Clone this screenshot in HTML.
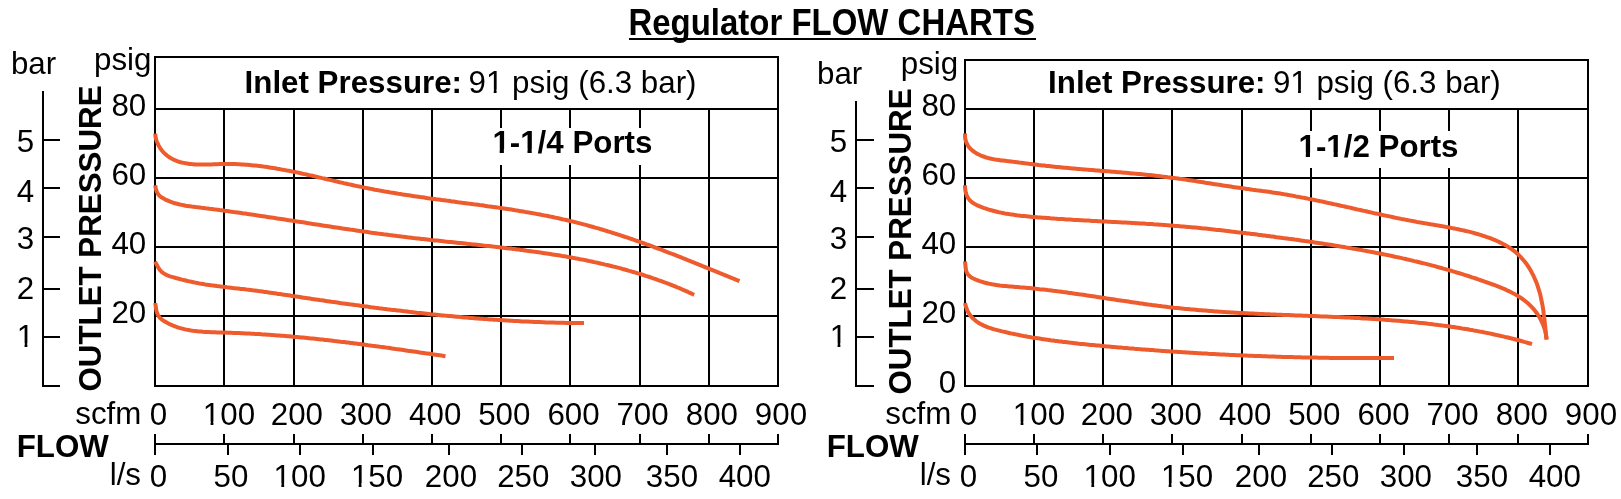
<!DOCTYPE html>
<html><head><meta charset="utf-8"><style>
html,body{margin:0;padding:0;background:#fff;}
body{width:1621px;height:499px;overflow:hidden;position:relative;}
svg{position:absolute;left:0;top:0;will-change:transform;}
text{font-family:"Liberation Sans", sans-serif;fill:#000;}
</style></head><body>
<svg width="1621" height="499" viewBox="0 0 1621 499">
<g>
<rect x="154" y="56" width="625" height="2" fill="#000"/>
<rect x="154" y="108" width="625" height="2" fill="#000"/>
<rect x="154" y="177" width="625" height="2" fill="#000"/>
<rect x="154" y="246" width="625" height="2" fill="#000"/>
<rect x="154" y="315" width="625" height="2" fill="#000"/>
<rect x="154" y="385" width="625" height="2" fill="#000"/>
<rect x="154" y="56" width="2" height="331" fill="#000"/>
<rect x="777" y="56" width="2" height="331" fill="#000"/>
<rect x="223" y="108" width="2" height="279" fill="#000"/>
<rect x="293" y="108" width="2" height="279" fill="#000"/>
<rect x="362" y="108" width="2" height="279" fill="#000"/>
<rect x="431" y="108" width="2" height="279" fill="#000"/>
<rect x="500" y="108" width="2" height="279" fill="#000"/>
<rect x="569" y="108" width="2" height="279" fill="#000"/>
<rect x="639" y="108" width="2" height="279" fill="#000"/>
<rect x="708" y="108" width="2" height="279" fill="#000"/>
<rect x="478" y="128" width="184" height="37" fill="#fff"/>
<path d="M155.2,133.6 L155.4,135.6 L155.7,137.7 L156.2,139.6 L156.9,141.6 L157.6,143.4 L158.5,145.2 L159.5,147.0 L160.5,148.6 L161.7,150.2 L163.0,151.8 L164.4,153.2 L165.9,154.6 L167.4,155.8 L169.0,157.0 L170.7,158.1 L172.4,159.0 L174.2,159.9 L176.0,160.7 L177.8,161.4 L179.7,162.0 L181.7,162.5 L183.6,162.9 L185.6,163.3 L187.5,163.6 L189.5,163.9 L191.5,164.1 L193.5,164.2 L195.5,164.4 L197.5,164.4 L199.5,164.5 L201.5,164.5 L203.5,164.5 L205.5,164.5 L207.5,164.5 L209.5,164.4 L211.5,164.4 L213.6,164.3 L215.6,164.2 L217.6,164.2 L219.6,164.1 L221.6,164.0 L223.6,164.0 L225.7,164.0 L227.7,164.0 L229.7,164.0 L231.7,164.0 L233.7,164.1 L235.7,164.1 L237.7,164.2 L239.7,164.3 L241.6,164.4 L243.6,164.5 L245.6,164.7 L247.6,164.8 L249.6,165.0 L251.6,165.2 L253.6,165.4 L255.5,165.6 L257.5,165.8 L259.5,166.0 L261.5,166.3 L263.4,166.6 L265.4,166.8 L267.4,167.1 L269.3,167.4 L271.3,167.7 L273.3,168.0 L275.2,168.3 L277.2,168.7 L279.2,169.0 L281.1,169.4 L283.1,169.7 L285.0,170.1 L287.0,170.5 L289.0,170.8 L290.9,171.2 L292.9,171.6 L294.8,172.0 L296.8,172.4 L298.7,172.8 L300.7,173.3 L302.6,173.7 L304.6,174.1 L306.5,174.5 L308.5,175.0 L310.4,175.4 L312.4,175.8 L314.3,176.3 L316.3,176.7 L318.2,177.2 L320.2,177.6 L322.1,178.1 L324.1,178.5 L326.0,179.0 L328.0,179.5 L329.9,179.9 L331.9,180.4 L333.8,180.8 L335.8,181.3 L337.7,181.7 L339.7,182.2 L341.6,182.6 L343.6,183.1 L345.5,183.5 L347.5,184.0 L349.4,184.4 L351.4,184.8 L353.3,185.3 L355.3,185.7 L357.2,186.1 L359.2,186.5 L361.2,186.9 L363.1,187.4 L365.1,187.8 L367.0,188.1 L369.0,188.5 L371.0,188.9 L372.9,189.3 L374.9,189.7 L376.9,190.0 L378.8,190.4 L380.8,190.8 L382.8,191.1 L384.7,191.5 L386.7,191.8 L388.7,192.1 L390.7,192.5 L392.6,192.8 L394.6,193.1 L396.6,193.4 L398.5,193.8 L400.5,194.1 L402.5,194.4 L404.5,194.7 L406.5,195.0 L408.4,195.3 L410.4,195.6 L412.4,195.9 L414.4,196.2 L416.3,196.5 L418.3,196.8 L420.3,197.1 L422.3,197.3 L424.3,197.6 L426.2,197.9 L428.2,198.2 L430.2,198.4 L432.2,198.7 L434.2,199.0 L436.2,199.3 L438.1,199.5 L440.1,199.8 L442.1,200.1 L444.1,200.3 L446.1,200.6 L448.1,200.8 L450.0,201.1 L452.0,201.4 L454.0,201.6 L456.0,201.9 L458.0,202.2 L460.0,202.4 L461.9,202.7 L463.9,202.9 L465.9,203.2 L467.9,203.5 L469.9,203.7 L471.8,204.0 L473.8,204.3 L475.8,204.5 L477.8,204.8 L479.8,205.1 L481.8,205.3 L483.7,205.6 L485.7,205.9 L487.7,206.2 L489.7,206.4 L491.6,206.7 L493.6,207.0 L495.6,207.3 L497.6,207.6 L499.6,207.8 L501.5,208.1 L503.5,208.4 L505.5,208.7 L507.5,209.0 L509.4,209.3 L511.4,209.6 L513.4,209.9 L515.3,210.3 L517.3,210.6 L519.3,210.9 L521.3,211.2 L523.2,211.5 L525.2,211.9 L527.2,212.2 L529.1,212.6 L531.1,212.9 L533.0,213.3 L535.0,213.6 L537.0,214.0 L538.9,214.3 L540.9,214.7 L542.8,215.1 L544.8,215.5 L546.8,215.8 L548.7,216.2 L550.7,216.6 L552.6,217.0 L554.6,217.5 L556.5,217.9 L558.5,218.3 L560.4,218.7 L562.4,219.2 L564.3,219.6 L566.2,220.0 L568.2,220.5 L570.1,221.0 L572.1,221.4 L574.0,221.9 L575.9,222.4 L577.9,222.9 L579.8,223.4 L581.7,223.9 L583.7,224.4 L585.6,224.9 L587.5,225.4 L589.5,226.0 L591.4,226.5 L593.3,227.0 L595.2,227.6 L597.2,228.1 L599.1,228.7 L601.0,229.3 L602.9,229.8 L604.8,230.4 L606.7,231.0 L608.6,231.6 L610.6,232.2 L612.5,232.8 L614.4,233.4 L616.3,234.0 L618.2,234.6 L620.1,235.2 L622.0,235.8 L623.9,236.5 L625.8,237.1 L627.7,237.7 L629.6,238.4 L631.5,239.0 L633.4,239.7 L635.3,240.3 L637.2,241.0 L639.1,241.7 L641.0,242.3 L642.9,243.0 L644.7,243.7 L646.6,244.4 L648.5,245.0 L650.4,245.7 L652.3,246.4 L654.2,247.1 L656.0,247.8 L657.9,248.5 L659.8,249.2 L661.7,249.9 L663.6,250.6 L665.4,251.3 L667.3,252.1 L669.2,252.8 L671.0,253.5 L672.9,254.2 L674.8,254.9 L676.7,255.7 L678.5,256.4 L680.4,257.1 L682.3,257.9 L684.1,258.6 L686.0,259.3 L687.8,260.1 L689.7,260.8 L691.6,261.6 L693.4,262.3 L695.3,263.1 L697.1,263.8 L699.0,264.6 L700.8,265.3 L702.7,266.1 L704.5,266.8 L706.4,267.6 L708.2,268.3 L710.1,269.1 L711.9,269.8 L713.8,270.6 L715.6,271.3 L717.5,272.1 L719.3,272.9 L721.1,273.6 L723.0,274.4 L724.8,275.1 L726.7,275.9 L728.5,276.7 L730.3,277.4 L732.2,278.2 L734.0,278.9 L735.8,279.7 L737.7,280.4 L739.5,281.2" fill="none" stroke="#EE5B2D" stroke-width="4" stroke-linecap="butt" stroke-linejoin="round"/>
<path d="M155.2,185.2 L155.5,187.2 L156.0,189.2 L156.6,191.2 L157.4,193.0 L158.5,194.7 L159.8,196.1 L161.5,197.3 L163.2,198.3 L164.9,199.3 L166.7,200.1 L168.5,200.9 L170.3,201.7 L172.2,202.4 L174.1,203.0 L176.0,203.5 L177.9,204.0 L179.8,204.5 L181.7,204.9 L183.7,205.3 L185.6,205.7 L187.6,206.0 L189.6,206.3 L191.6,206.6 L193.6,206.8 L195.6,207.1 L197.6,207.3 L199.6,207.5 L201.6,207.8 L203.6,208.0 L205.6,208.3 L207.6,208.5 L209.6,208.8 L211.6,209.0 L213.6,209.3 L215.6,209.5 L217.6,209.8 L219.6,210.1 L221.5,210.3 L223.5,210.6 L225.5,210.9 L227.5,211.1 L229.5,211.4 L231.5,211.7 L233.5,212.0 L235.5,212.2 L237.5,212.5 L239.4,212.8 L241.4,213.1 L243.4,213.4 L245.4,213.6 L247.4,213.9 L249.4,214.2 L251.3,214.5 L253.3,214.8 L255.3,215.1 L257.3,215.4 L259.2,215.7 L261.2,216.0 L263.2,216.3 L265.2,216.6 L267.2,216.9 L269.1,217.2 L271.1,217.5 L273.1,217.8 L275.1,218.1 L277.0,218.4 L279.0,218.7 L281.0,219.0 L283.0,219.3 L284.9,219.6 L286.9,219.9 L288.9,220.2 L290.8,220.5 L292.8,220.8 L294.8,221.1 L296.8,221.4 L298.7,221.7 L300.7,222.0 L302.7,222.3 L304.6,222.6 L306.6,222.9 L308.6,223.2 L310.6,223.6 L312.5,223.9 L314.5,224.2 L316.5,224.5 L318.4,224.8 L320.4,225.1 L322.4,225.4 L324.3,225.7 L326.3,226.0 L328.3,226.3 L330.3,226.6 L332.2,226.9 L334.2,227.2 L336.2,227.5 L338.1,227.8 L340.1,228.1 L342.1,228.4 L344.0,228.7 L346.0,229.0 L348.0,229.3 L350.0,229.6 L351.9,229.8 L353.9,230.1 L355.9,230.4 L357.9,230.7 L359.8,231.0 L361.8,231.3 L363.8,231.6 L365.7,231.8 L367.7,232.1 L369.7,232.4 L371.7,232.7 L373.6,232.9 L375.6,233.2 L377.6,233.5 L379.6,233.7 L381.6,234.0 L383.5,234.3 L385.5,234.5 L387.5,234.8 L389.5,235.1 L391.5,235.3 L393.4,235.6 L395.4,235.8 L397.4,236.1 L399.4,236.3 L401.4,236.6 L403.3,236.8 L405.3,237.0 L407.3,237.3 L409.3,237.5 L411.3,237.7 L413.3,238.0 L415.3,238.2 L417.3,238.4 L419.2,238.6 L421.2,238.9 L423.2,239.1 L425.2,239.3 L427.2,239.5 L429.2,239.7 L431.2,240.0 L433.2,240.2 L435.2,240.4 L437.2,240.6 L439.2,240.8 L441.2,241.0 L443.1,241.2 L445.1,241.5 L447.1,241.7 L449.1,241.9 L451.1,242.1 L453.1,242.3 L455.1,242.5 L457.1,242.7 L459.1,242.9 L461.1,243.1 L463.1,243.3 L465.1,243.5 L467.1,243.8 L469.1,244.0 L471.1,244.2 L473.1,244.4 L475.1,244.6 L477.0,244.8 L479.0,245.0 L481.0,245.2 L483.0,245.5 L485.0,245.7 L487.0,245.9 L489.0,246.1 L491.0,246.3 L493.0,246.6 L495.0,246.8 L497.0,247.0 L499.0,247.2 L501.0,247.5 L502.9,247.7 L504.9,247.9 L506.9,248.2 L508.9,248.4 L510.9,248.6 L512.9,248.9 L514.9,249.1 L516.9,249.4 L518.8,249.6 L520.8,249.9 L522.8,250.1 L524.8,250.4 L526.8,250.7 L528.8,250.9 L530.7,251.2 L532.7,251.5 L534.7,251.7 L536.7,252.0 L538.7,252.3 L540.6,252.6 L542.6,252.9 L544.6,253.2 L546.6,253.5 L548.5,253.8 L550.5,254.1 L552.5,254.4 L554.5,254.7 L556.4,255.0 L558.4,255.3 L560.4,255.6 L562.3,256.0 L564.3,256.3 L566.3,256.6 L568.2,257.0 L570.2,257.3 L572.2,257.7 L574.1,258.1 L576.1,258.4 L578.0,258.8 L580.0,259.2 L581.9,259.5 L583.9,259.9 L585.9,260.3 L587.8,260.7 L589.8,261.1 L591.7,261.5 L593.6,262.0 L595.6,262.4 L597.5,262.8 L599.5,263.2 L601.4,263.7 L603.4,264.1 L605.3,264.6 L607.2,265.0 L609.2,265.5 L611.1,266.0 L613.0,266.5 L615.0,266.9 L616.9,267.4 L618.8,267.9 L620.7,268.4 L622.7,269.0 L624.6,269.5 L626.5,270.0 L628.4,270.6 L630.3,271.1 L632.2,271.7 L634.2,272.2 L636.1,272.8 L638.0,273.4 L639.9,273.9 L641.8,274.5 L643.7,275.1 L645.6,275.8 L647.5,276.4 L649.4,277.0 L651.3,277.6 L653.2,278.3 L655.1,278.9 L656.9,279.6 L658.8,280.3 L660.7,280.9 L662.6,281.6 L664.5,282.3 L666.3,283.0 L668.2,283.7 L670.1,284.5 L672.0,285.2 L673.8,286.0 L675.7,286.7 L677.6,287.5 L679.4,288.2 L681.3,289.0 L683.1,289.8 L685.0,290.6 L686.8,291.4 L688.7,292.3 L690.5,293.1 L692.4,294.0 L694.2,294.8" fill="none" stroke="#EE5B2D" stroke-width="4" stroke-linecap="butt" stroke-linejoin="round"/>
<path d="M155.1,261.6 L156.0,263.4 L157.0,265.2 L158.0,267.0 L159.0,268.7 L160.2,270.2 L161.5,271.7 L163.0,272.9 L164.6,273.9 L166.3,274.8 L168.1,275.6 L170.0,276.3 L171.9,276.9 L173.9,277.4 L175.8,278.0 L177.8,278.5 L179.7,279.0 L181.7,279.6 L183.6,280.0 L185.6,280.5 L187.5,281.0 L189.5,281.4 L191.4,281.8 L193.4,282.2 L195.3,282.6 L197.3,283.0 L199.2,283.4 L201.2,283.7 L203.2,284.0 L205.1,284.4 L207.1,284.7 L209.1,285.0 L211.0,285.3 L213.0,285.5 L215.0,285.8 L217.0,286.1 L218.9,286.3 L220.9,286.6 L222.9,286.8 L224.9,287.0 L226.8,287.3 L228.8,287.5 L230.8,287.7 L232.8,288.0 L234.8,288.2 L236.7,288.4 L238.7,288.6 L240.7,288.9 L242.7,289.1 L244.7,289.3 L246.6,289.6 L248.6,289.8 L250.6,290.0 L252.6,290.3 L254.6,290.5 L256.5,290.8 L258.5,291.1 L260.5,291.3 L262.5,291.6 L264.4,291.9 L266.4,292.1 L268.4,292.4 L270.4,292.7 L272.4,293.0 L274.3,293.3 L276.3,293.6 L278.3,293.9 L280.3,294.1 L282.2,294.4 L284.2,294.7 L286.2,295.0 L288.2,295.3 L290.1,295.6 L292.1,295.9 L294.1,296.2 L296.1,296.5 L298.0,296.8 L300.0,297.1 L302.0,297.4 L304.0,297.7 L305.9,298.0 L307.9,298.3 L309.9,298.6 L311.9,298.9 L313.8,299.2 L315.8,299.5 L317.8,299.8 L319.8,300.1 L321.8,300.3 L323.7,300.6 L325.7,300.9 L327.7,301.2 L329.7,301.5 L331.6,301.8 L333.6,302.0 L335.6,302.3 L337.6,302.6 L339.6,302.9 L341.5,303.2 L343.5,303.4 L345.5,303.7 L347.5,304.0 L349.4,304.3 L351.4,304.5 L353.4,304.8 L355.4,305.1 L357.4,305.3 L359.3,305.6 L361.3,305.9 L363.3,306.1 L365.3,306.4 L367.2,306.6 L369.2,306.9 L371.2,307.2 L373.2,307.4 L375.2,307.7 L377.1,307.9 L379.1,308.2 L381.1,308.4 L383.1,308.7 L385.1,308.9 L387.0,309.2 L389.0,309.4 L391.0,309.7 L393.0,309.9 L395.0,310.1 L397.0,310.4 L398.9,310.6 L400.9,310.8 L402.9,311.1 L404.9,311.3 L406.9,311.5 L408.8,311.8 L410.8,312.0 L412.8,312.2 L414.8,312.4 L416.8,312.7 L418.8,312.9 L420.7,313.1 L422.7,313.3 L424.7,313.5 L426.7,313.7 L428.7,313.9 L430.7,314.2 L432.6,314.4 L434.6,314.6 L436.6,314.8 L438.6,315.0 L440.6,315.2 L442.6,315.4 L444.5,315.6 L446.5,315.7 L448.5,315.9 L450.5,316.1 L452.5,316.3 L454.5,316.5 L456.5,316.7 L458.4,316.8 L460.4,317.0 L462.4,317.2 L464.4,317.4 L466.4,317.5 L468.4,317.7 L470.4,317.9 L472.4,318.0 L474.3,318.2 L476.3,318.4 L478.3,318.5 L480.3,318.7 L482.3,318.8 L484.3,319.0 L486.3,319.1 L488.3,319.3 L490.3,319.4 L492.2,319.5 L494.2,319.7 L496.2,319.8 L498.2,320.0 L500.2,320.1 L502.2,320.2 L504.2,320.3 L506.2,320.5 L508.2,320.6 L510.2,320.7 L512.1,320.8 L514.1,320.9 L516.1,321.0 L518.1,321.1 L520.1,321.2 L522.1,321.4 L524.1,321.4 L526.1,321.5 L528.1,321.6 L530.1,321.7 L532.1,321.8 L534.1,321.9 L536.1,322.0 L538.1,322.1 L540.1,322.1 L542.0,322.2 L544.0,322.3 L546.0,322.4 L548.0,322.4 L550.0,322.5 L552.0,322.5 L554.0,322.6 L556.0,322.7 L558.0,322.7 L560.0,322.8 L562.0,322.8 L564.0,322.8 L566.0,322.9 L568.0,322.9 L570.0,323.0 L572.0,323.0 L574.0,323.0 L576.0,323.0 L578.0,323.1 L580.0,323.1 L582.0,323.1 L584.0,323.1" fill="none" stroke="#EE5B2D" stroke-width="4" stroke-linecap="butt" stroke-linejoin="round"/>
<path d="M155.2,303.0 L155.5,304.9 L155.8,306.9 L156.1,309.0 L156.5,311.0 L157.1,313.0 L157.8,314.8 L158.9,316.5 L160.1,318.0 L161.6,319.3 L163.2,320.5 L164.9,321.6 L166.7,322.6 L168.4,323.5 L170.2,324.4 L172.1,325.2 L173.9,326.0 L175.8,326.7 L177.6,327.3 L179.5,327.9 L181.4,328.4 L183.3,328.9 L185.2,329.4 L187.2,329.8 L189.1,330.1 L191.1,330.5 L193.0,330.8 L195.0,331.0 L197.0,331.2 L199.0,331.4 L201.0,331.6 L203.0,331.8 L205.0,331.9 L207.0,332.0 L209.0,332.1 L211.0,332.2 L213.0,332.3 L215.1,332.3 L217.1,332.4 L219.1,332.4 L221.2,332.5 L223.2,332.6 L225.2,332.6 L227.2,332.7 L229.3,332.7 L231.3,332.8 L233.3,332.9 L235.3,332.9 L237.3,333.0 L239.3,333.1 L241.3,333.2 L243.4,333.3 L245.4,333.4 L247.4,333.5 L249.4,333.6 L251.4,333.7 L253.4,333.8 L255.4,333.9 L257.4,334.0 L259.4,334.1 L261.4,334.3 L263.4,334.4 L265.4,334.5 L267.4,334.7 L269.4,334.8 L271.4,334.9 L273.3,335.1 L275.3,335.2 L277.3,335.4 L279.3,335.5 L281.3,335.7 L283.3,335.8 L285.3,336.0 L287.3,336.2 L289.2,336.3 L291.2,336.5 L293.2,336.7 L295.2,336.9 L297.2,337.0 L299.1,337.2 L301.1,337.4 L303.1,337.6 L305.1,337.8 L307.1,338.0 L309.0,338.2 L311.0,338.4 L313.0,338.6 L315.0,338.8 L316.9,339.0 L318.9,339.2 L320.9,339.4 L322.8,339.6 L324.8,339.9 L326.8,340.1 L328.8,340.3 L330.7,340.5 L332.7,340.7 L334.7,341.0 L336.6,341.2 L338.6,341.4 L340.6,341.7 L342.6,341.9 L344.5,342.1 L346.5,342.4 L348.5,342.6 L350.4,342.9 L352.4,343.1 L354.4,343.4 L356.3,343.6 L358.3,343.9 L360.3,344.1 L362.3,344.4 L364.2,344.6 L366.2,344.9 L368.2,345.2 L370.1,345.4 L372.1,345.7 L374.1,345.9 L376.0,346.2 L378.0,346.5 L380.0,346.8 L382.0,347.0 L383.9,347.3 L385.9,347.6 L387.9,347.8 L389.9,348.1 L391.8,348.4 L393.8,348.7 L395.8,349.0 L397.8,349.2 L399.7,349.5 L401.7,349.8 L403.7,350.1 L405.7,350.4 L407.7,350.7 L409.7,350.9 L411.6,351.2 L413.6,351.5 L415.6,351.8 L417.6,352.1 L419.6,352.4 L421.6,352.7 L423.6,353.0 L425.5,353.3 L427.5,353.5 L429.5,353.8 L431.5,354.1 L433.5,354.4 L435.5,354.7 L437.5,355.0 L439.5,355.3 L441.5,355.6 L443.5,355.9 L445.5,356.2" fill="none" stroke="#EE5B2D" stroke-width="4" stroke-linecap="butt" stroke-linejoin="round"/>
<rect x="42" y="91" width="2" height="296" fill="#000"/>
<rect x="42" y="139" width="18" height="2" fill="#000"/>
<rect x="42" y="187" width="18" height="2" fill="#000"/>
<rect x="42" y="236" width="18" height="2" fill="#000"/>
<rect x="42" y="288" width="18" height="2" fill="#000"/>
<rect x="42" y="336" width="18" height="2" fill="#000"/>
<rect x="42" y="385" width="18" height="2" fill="#000"/>
<rect x="154" y="443" width="625" height="2" fill="#000"/>
<rect x="154" y="434" width="2" height="21" fill="#000"/>
<rect x="223" y="434" width="2" height="10" fill="#000"/>
<rect x="293" y="434" width="2" height="10" fill="#000"/>
<rect x="362" y="434" width="2" height="10" fill="#000"/>
<rect x="431" y="434" width="2" height="10" fill="#000"/>
<rect x="500" y="434" width="2" height="10" fill="#000"/>
<rect x="569" y="434" width="2" height="10" fill="#000"/>
<rect x="639" y="434" width="2" height="10" fill="#000"/>
<rect x="708" y="434" width="2" height="10" fill="#000"/>
<rect x="777" y="434" width="2" height="10" fill="#000"/>
<rect x="227" y="443" width="2" height="12" fill="#000"/>
<rect x="299" y="443" width="2" height="12" fill="#000"/>
<rect x="372" y="443" width="2" height="12" fill="#000"/>
<rect x="448" y="443" width="2" height="12" fill="#000"/>
<rect x="521" y="443" width="2" height="12" fill="#000"/>
<rect x="594" y="443" width="2" height="12" fill="#000"/>
<rect x="666" y="443" width="2" height="12" fill="#000"/>
<rect x="739" y="443" width="2" height="12" fill="#000"/>
<rect x="964" y="59" width="625" height="2" fill="#000"/>
<rect x="964" y="108" width="625" height="2" fill="#000"/>
<rect x="964" y="177" width="625" height="2" fill="#000"/>
<rect x="964" y="246" width="625" height="2" fill="#000"/>
<rect x="964" y="315" width="625" height="2" fill="#000"/>
<rect x="964" y="385" width="625" height="2" fill="#000"/>
<rect x="964" y="59" width="2" height="328" fill="#000"/>
<rect x="1587" y="59" width="2" height="328" fill="#000"/>
<rect x="1033" y="108" width="2" height="279" fill="#000"/>
<rect x="1102" y="108" width="2" height="279" fill="#000"/>
<rect x="1171" y="108" width="2" height="279" fill="#000"/>
<rect x="1241" y="108" width="2" height="279" fill="#000"/>
<rect x="1310" y="108" width="2" height="279" fill="#000"/>
<rect x="1379" y="108" width="2" height="279" fill="#000"/>
<rect x="1448" y="108" width="2" height="279" fill="#000"/>
<rect x="1517" y="108" width="2" height="279" fill="#000"/>
<rect x="1288" y="131" width="182" height="37" fill="#fff"/>
<path d="M965.0,133.6 L965.0,135.8 L965.1,137.9 L965.5,139.9 L966.1,141.8 L966.8,143.6 L967.8,145.3 L968.9,146.9 L970.1,148.4 L971.5,149.7 L973.0,151.0 L974.6,152.1 L976.2,153.2 L978.0,154.2 L979.8,155.0 L981.6,155.8 L983.5,156.5 L985.3,157.2 L987.2,157.7 L989.2,158.3 L991.1,158.7 L993.1,159.1 L995.1,159.5 L997.1,159.8 L999.1,160.1 L1001.1,160.4 L1003.1,160.6 L1005.1,160.8 L1007.1,161.1 L1009.1,161.3 L1011.1,161.5 L1013.1,161.8 L1015.1,162.0 L1017.1,162.2 L1019.0,162.5 L1021.0,162.7 L1023.0,163.0 L1024.9,163.3 L1026.9,163.5 L1028.9,163.8 L1030.8,164.0 L1032.8,164.3 L1034.7,164.5 L1036.7,164.7 L1038.7,165.0 L1040.6,165.2 L1042.6,165.4 L1044.6,165.6 L1046.5,165.9 L1048.5,166.1 L1050.5,166.3 L1052.5,166.5 L1054.4,166.7 L1056.4,166.9 L1058.4,167.1 L1060.4,167.3 L1062.3,167.5 L1064.3,167.7 L1066.3,167.8 L1068.3,168.0 L1070.3,168.2 L1072.3,168.4 L1074.3,168.5 L1076.2,168.7 L1078.2,168.9 L1080.2,169.1 L1082.2,169.2 L1084.2,169.4 L1086.2,169.6 L1088.2,169.7 L1090.2,169.9 L1092.2,170.0 L1094.2,170.2 L1096.2,170.4 L1098.1,170.5 L1100.1,170.7 L1102.1,170.9 L1104.1,171.0 L1106.1,171.2 L1108.1,171.3 L1110.1,171.5 L1112.1,171.7 L1114.1,171.8 L1116.1,172.0 L1118.1,172.2 L1120.1,172.3 L1122.1,172.5 L1124.1,172.7 L1126.1,172.8 L1128.1,173.0 L1130.1,173.2 L1132.1,173.4 L1134.0,173.6 L1136.0,173.7 L1138.0,173.9 L1140.0,174.1 L1142.0,174.3 L1144.0,174.5 L1146.0,174.7 L1148.0,174.9 L1150.0,175.1 L1152.0,175.3 L1153.9,175.5 L1155.9,175.8 L1157.9,176.0 L1159.9,176.2 L1161.9,176.5 L1163.9,176.7 L1165.8,176.9 L1167.8,177.2 L1169.8,177.4 L1171.8,177.7 L1173.7,177.9 L1175.7,178.2 L1177.7,178.5 L1179.7,178.8 L1181.6,179.0 L1183.6,179.3 L1185.6,179.6 L1187.5,179.9 L1189.5,180.2 L1191.5,180.5 L1193.4,180.8 L1195.4,181.1 L1197.4,181.4 L1199.3,181.7 L1201.3,182.0 L1203.3,182.3 L1205.2,182.7 L1207.2,183.0 L1209.2,183.3 L1211.1,183.6 L1213.1,183.9 L1215.0,184.2 L1217.0,184.5 L1219.0,184.8 L1220.9,185.1 L1222.9,185.4 L1224.9,185.7 L1226.8,186.0 L1228.8,186.3 L1230.8,186.6 L1232.8,186.9 L1234.7,187.2 L1236.7,187.5 L1238.7,187.8 L1240.7,188.1 L1242.6,188.3 L1244.6,188.6 L1246.6,188.9 L1248.6,189.1 L1250.5,189.4 L1252.5,189.7 L1254.5,189.9 L1256.5,190.2 L1258.5,190.4 L1260.5,190.7 L1262.4,191.0 L1264.4,191.2 L1266.4,191.5 L1268.4,191.8 L1270.3,192.1 L1272.3,192.4 L1274.3,192.7 L1276.3,193.0 L1278.2,193.3 L1280.2,193.6 L1282.2,193.9 L1284.1,194.3 L1286.1,194.6 L1288.1,194.9 L1290.0,195.3 L1292.0,195.6 L1294.0,196.0 L1295.9,196.4 L1297.9,196.7 L1299.8,197.1 L1301.8,197.5 L1303.8,197.8 L1305.7,198.2 L1307.7,198.6 L1309.6,199.0 L1311.6,199.4 L1313.5,199.8 L1315.5,200.2 L1317.4,200.6 L1319.4,201.0 L1321.3,201.4 L1323.3,201.8 L1325.2,202.3 L1327.2,202.7 L1329.1,203.1 L1331.1,203.5 L1333.0,204.0 L1335.0,204.4 L1336.9,204.8 L1338.9,205.2 L1340.8,205.7 L1342.8,206.1 L1344.7,206.5 L1346.6,207.0 L1348.6,207.4 L1350.5,207.8 L1352.5,208.3 L1354.4,208.7 L1356.4,209.2 L1358.3,209.6 L1360.3,210.0 L1362.2,210.5 L1364.2,210.9 L1366.1,211.3 L1368.0,211.8 L1370.0,212.2 L1371.9,212.6 L1373.9,213.1 L1375.8,213.5 L1377.8,213.9 L1379.7,214.3 L1381.7,214.8 L1383.6,215.2 L1385.6,215.6 L1387.5,216.0 L1389.5,216.4 L1391.4,216.8 L1393.4,217.3 L1395.3,217.7 L1397.3,218.1 L1399.2,218.5 L1401.2,218.9 L1403.2,219.2 L1405.1,219.6 L1407.1,220.0 L1409.0,220.4 L1411.0,220.8 L1413.0,221.1 L1414.9,221.5 L1416.9,221.9 L1418.8,222.2 L1420.8,222.6 L1422.8,222.9 L1424.7,223.3 L1426.7,223.6 L1428.7,223.9 L1430.7,224.3 L1432.6,224.6 L1434.6,224.9 L1436.6,225.3 L1438.5,225.6 L1440.5,225.9 L1442.5,226.3 L1444.4,226.6 L1446.4,227.0 L1448.4,227.3 L1450.3,227.7 L1452.3,228.1 L1454.2,228.5 L1456.2,228.9 L1458.1,229.3 L1460.1,229.7 L1462.0,230.1 L1464.0,230.5 L1465.9,231.0 L1467.8,231.4 L1469.8,231.9 L1471.7,232.4 L1473.6,232.9 L1475.5,233.5 L1477.5,234.0 L1479.4,234.6 L1481.3,235.2 L1483.2,235.8 L1485.1,236.4 L1487.0,237.1 L1488.8,237.7 L1490.7,238.4 L1492.6,239.2 L1494.4,239.9 L1496.3,240.7 L1498.1,241.5 L1499.9,242.4 L1501.7,243.3 L1503.5,244.2 L1505.3,245.1 L1507.0,246.1 L1508.7,247.2 L1510.4,248.3 L1512.0,249.4 L1513.6,250.6 L1515.1,251.8 L1516.6,253.1 L1518.1,254.4 L1519.5,255.8 L1520.9,257.2 L1522.2,258.7 L1523.5,260.2 L1524.8,261.7 L1526.0,263.3 L1527.2,264.9 L1528.3,266.6 L1529.4,268.3 L1530.4,270.0 L1531.4,271.8 L1532.3,273.6 L1533.3,275.4 L1534.1,277.2 L1534.9,279.0 L1535.7,280.9 L1536.5,282.7 L1537.2,284.6 L1537.8,286.5 L1538.4,288.4 L1539.0,290.3 L1539.6,292.2 L1540.1,294.1 L1540.6,296.1 L1541.0,298.0 L1541.4,300.0 L1541.8,301.9 L1542.2,303.9 L1542.6,305.8 L1542.9,307.8 L1543.2,309.8 L1543.5,311.8 L1543.7,313.7 L1544.0,315.7 L1544.2,317.7 L1544.5,319.7 L1544.7,321.7 L1544.9,323.7 L1545.1,325.6 L1545.3,327.6 L1545.5,329.6 L1545.7,331.6 L1545.9,333.6 L1546.1,335.6 L1546.3,337.5 L1546.5,339.5" fill="none" stroke="#EE5B2D" stroke-width="4" stroke-linecap="butt" stroke-linejoin="round"/>
<path d="M965.0,185.2 L965.0,187.1 L965.2,189.1 L965.5,191.2 L966.0,193.2 L966.7,195.2 L967.5,197.1 L968.5,198.8 L969.8,200.3 L971.2,201.6 L972.7,202.8 L974.4,203.8 L976.1,204.7 L977.9,205.6 L979.8,206.3 L981.7,207.1 L983.5,207.8 L985.4,208.4 L987.3,209.1 L989.2,209.7 L991.1,210.2 L993.1,210.7 L995.0,211.2 L996.9,211.7 L998.9,212.2 L1000.8,212.6 L1002.8,213.0 L1004.7,213.4 L1006.7,213.7 L1008.6,214.0 L1010.6,214.4 L1012.6,214.6 L1014.6,214.9 L1016.6,215.2 L1018.5,215.4 L1020.5,215.7 L1022.5,215.9 L1024.5,216.1 L1026.5,216.3 L1028.5,216.5 L1030.5,216.7 L1032.5,216.9 L1034.5,217.0 L1036.5,217.2 L1038.5,217.4 L1040.5,217.5 L1042.4,217.7 L1044.4,217.8 L1046.4,218.0 L1048.4,218.1 L1050.4,218.3 L1052.4,218.4 L1054.4,218.6 L1056.4,218.7 L1058.4,218.9 L1060.4,219.0 L1062.4,219.1 L1064.4,219.2 L1066.4,219.4 L1068.4,219.5 L1070.3,219.6 L1072.3,219.7 L1074.3,219.9 L1076.3,220.0 L1078.3,220.1 L1080.3,220.2 L1082.3,220.3 L1084.3,220.4 L1086.3,220.5 L1088.3,220.6 L1090.3,220.7 L1092.2,220.9 L1094.2,221.0 L1096.2,221.1 L1098.2,221.2 L1100.2,221.3 L1102.2,221.4 L1104.2,221.5 L1106.2,221.6 L1108.2,221.7 L1110.1,221.8 L1112.1,221.9 L1114.1,222.0 L1116.1,222.1 L1118.1,222.2 L1120.1,222.3 L1122.1,222.4 L1124.1,222.5 L1126.1,222.6 L1128.0,222.7 L1130.0,222.8 L1132.0,223.0 L1134.0,223.1 L1136.0,223.2 L1138.0,223.3 L1140.0,223.4 L1142.0,223.5 L1143.9,223.6 L1145.9,223.8 L1147.9,223.9 L1149.9,224.0 L1151.9,224.1 L1153.9,224.3 L1155.9,224.4 L1157.9,224.5 L1159.8,224.7 L1161.8,224.8 L1163.8,224.9 L1165.8,225.1 L1167.8,225.2 L1169.8,225.4 L1171.8,225.5 L1173.7,225.7 L1175.7,225.9 L1177.7,226.0 L1179.7,226.2 L1181.7,226.4 L1183.7,226.5 L1185.7,226.7 L1187.7,226.9 L1189.6,227.1 L1191.6,227.2 L1193.6,227.4 L1195.6,227.6 L1197.6,227.8 L1199.6,228.0 L1201.6,228.2 L1203.5,228.4 L1205.5,228.6 L1207.5,228.8 L1209.5,229.0 L1211.5,229.2 L1213.5,229.4 L1215.5,229.7 L1217.4,229.9 L1219.4,230.1 L1221.4,230.3 L1223.4,230.5 L1225.4,230.8 L1227.4,231.0 L1229.4,231.2 L1231.3,231.5 L1233.3,231.7 L1235.3,231.9 L1237.3,232.2 L1239.3,232.4 L1241.3,232.6 L1243.2,232.9 L1245.2,233.1 L1247.2,233.4 L1249.2,233.6 L1251.2,233.9 L1253.2,234.1 L1255.1,234.3 L1257.1,234.6 L1259.1,234.9 L1261.1,235.1 L1263.1,235.4 L1265.1,235.6 L1267.0,235.9 L1269.0,236.1 L1271.0,236.4 L1273.0,236.6 L1275.0,236.9 L1276.9,237.2 L1278.9,237.4 L1280.9,237.7 L1282.9,238.0 L1284.9,238.2 L1286.8,238.5 L1288.8,238.8 L1290.8,239.0 L1292.8,239.3 L1294.8,239.6 L1296.7,239.8 L1298.7,240.1 L1300.7,240.4 L1302.7,240.7 L1304.6,241.0 L1306.6,241.2 L1308.6,241.5 L1310.6,241.8 L1312.5,242.1 L1314.5,242.4 L1316.5,242.7 L1318.5,243.0 L1320.4,243.3 L1322.4,243.6 L1324.4,243.9 L1326.3,244.2 L1328.3,244.5 L1330.3,244.8 L1332.3,245.1 L1334.2,245.4 L1336.2,245.7 L1338.2,246.1 L1340.1,246.4 L1342.1,246.7 L1344.1,247.0 L1346.0,247.4 L1348.0,247.7 L1350.0,248.0 L1351.9,248.4 L1353.9,248.7 L1355.8,249.1 L1357.8,249.4 L1359.8,249.8 L1361.7,250.1 L1363.7,250.5 L1365.6,250.8 L1367.6,251.2 L1369.6,251.6 L1371.5,251.9 L1373.5,252.3 L1375.4,252.7 L1377.4,253.1 L1379.3,253.4 L1381.3,253.8 L1383.2,254.2 L1385.2,254.6 L1387.1,255.0 L1389.1,255.4 L1391.0,255.8 L1393.0,256.2 L1394.9,256.7 L1396.9,257.1 L1398.8,257.5 L1400.8,257.9 L1402.7,258.4 L1404.7,258.8 L1406.6,259.3 L1408.5,259.7 L1410.5,260.1 L1412.4,260.6 L1414.3,261.1 L1416.3,261.5 L1418.2,262.0 L1420.2,262.5 L1422.1,263.0 L1424.0,263.4 L1426.0,263.9 L1427.9,264.4 L1429.8,264.9 L1431.7,265.4 L1433.7,265.9 L1435.6,266.4 L1437.5,267.0 L1439.4,267.5 L1441.4,268.0 L1443.3,268.6 L1445.2,269.1 L1447.1,269.6 L1449.0,270.2 L1451.0,270.7 L1452.9,271.3 L1454.8,271.9 L1456.7,272.5 L1458.6,273.0 L1460.5,273.6 L1462.4,274.2 L1464.4,274.8 L1466.3,275.4 L1468.2,276.0 L1470.1,276.6 L1472.0,277.3 L1473.9,277.9 L1475.8,278.5 L1477.7,279.2 L1479.6,279.8 L1481.5,280.5 L1483.4,281.1 L1485.3,281.8 L1487.2,282.5 L1489.1,283.1 L1490.9,283.8 L1492.8,284.5 L1494.7,285.2 L1496.6,285.9 L1498.5,286.7 L1500.3,287.4 L1502.2,288.2 L1504.0,288.9 L1505.8,289.7 L1507.7,290.6 L1509.5,291.4 L1511.2,292.3 L1513.0,293.2 L1514.7,294.1 L1516.4,295.1 L1518.1,296.1 L1519.8,297.2 L1521.4,298.2 L1523.0,299.4 L1524.5,300.5 L1526.1,301.8 L1527.6,303.0 L1529.0,304.3 L1530.4,305.7 L1531.8,307.1 L1533.2,308.6 L1534.5,310.1 L1535.7,311.7 L1536.9,313.3 L1538.0,315.0 L1539.1,316.8 L1540.2,318.6 L1541.1,320.4 L1542.0,322.3 L1542.9,324.1 L1543.6,326.1 L1544.3,328.0 L1544.9,329.9 L1545.4,331.8 L1545.8,333.8 L1546.1,335.7 L1546.4,337.6 L1546.5,339.5" fill="none" stroke="#EE5B2D" stroke-width="4" stroke-linecap="butt" stroke-linejoin="round"/>
<path d="M965.0,261.4 L965.2,263.3 L965.4,265.3 L965.6,267.4 L965.9,269.5 L966.4,271.5 L967.2,273.3 L968.3,274.9 L969.6,276.2 L971.2,277.4 L972.9,278.3 L974.7,279.2 L976.6,280.0 L978.5,280.7 L980.4,281.3 L982.3,281.9 L984.2,282.5 L986.1,283.0 L988.0,283.5 L990.0,283.9 L991.9,284.3 L993.9,284.6 L995.8,284.9 L997.8,285.2 L999.8,285.5 L1001.8,285.7 L1003.7,285.9 L1005.7,286.1 L1007.7,286.3 L1009.7,286.5 L1011.7,286.6 L1013.7,286.8 L1015.7,287.0 L1017.7,287.1 L1019.7,287.3 L1021.7,287.4 L1023.6,287.6 L1025.6,287.8 L1027.6,288.0 L1029.6,288.1 L1031.6,288.3 L1033.6,288.5 L1035.6,288.7 L1037.6,288.9 L1039.5,289.2 L1041.5,289.4 L1043.5,289.6 L1045.5,289.8 L1047.5,290.1 L1049.5,290.3 L1051.4,290.5 L1053.4,290.8 L1055.4,291.0 L1057.4,291.3 L1059.4,291.5 L1061.3,291.8 L1063.3,292.1 L1065.3,292.3 L1067.3,292.6 L1069.2,292.9 L1071.2,293.1 L1073.2,293.4 L1075.2,293.7 L1077.1,294.0 L1079.1,294.3 L1081.1,294.5 L1083.1,294.8 L1085.0,295.1 L1087.0,295.4 L1089.0,295.7 L1090.9,296.0 L1092.9,296.3 L1094.9,296.6 L1096.9,296.9 L1098.8,297.2 L1100.8,297.5 L1102.8,297.8 L1104.7,298.1 L1106.7,298.4 L1108.7,298.7 L1110.7,299.0 L1112.6,299.3 L1114.6,299.6 L1116.6,299.9 L1118.5,300.2 L1120.5,300.5 L1122.5,300.8 L1124.5,301.0 L1126.4,301.3 L1128.4,301.6 L1130.4,301.9 L1132.3,302.2 L1134.3,302.5 L1136.3,302.8 L1138.3,303.1 L1140.2,303.4 L1142.2,303.6 L1144.2,303.9 L1146.1,304.2 L1148.1,304.5 L1150.1,304.7 L1152.1,305.0 L1154.0,305.2 L1156.0,305.5 L1158.0,305.8 L1160.0,306.0 L1161.9,306.3 L1163.9,306.5 L1165.9,306.7 L1167.9,307.0 L1169.8,307.2 L1171.8,307.4 L1173.8,307.7 L1175.8,307.9 L1177.8,308.1 L1179.7,308.3 L1181.7,308.5 L1183.7,308.7 L1185.7,308.9 L1187.7,309.1 L1189.7,309.3 L1191.6,309.5 L1193.6,309.6 L1195.6,309.8 L1197.6,310.0 L1199.6,310.2 L1201.6,310.3 L1203.5,310.5 L1205.5,310.6 L1207.5,310.8 L1209.5,311.0 L1211.5,311.1 L1213.5,311.2 L1215.5,311.4 L1217.5,311.5 L1219.5,311.7 L1221.4,311.8 L1223.4,311.9 L1225.4,312.1 L1227.4,312.2 L1229.4,312.3 L1231.4,312.4 L1233.4,312.5 L1235.4,312.7 L1237.4,312.8 L1239.4,312.9 L1241.4,313.0 L1243.3,313.1 L1245.3,313.2 L1247.3,313.3 L1249.3,313.4 L1251.3,313.5 L1253.3,313.6 L1255.3,313.7 L1257.3,313.8 L1259.3,313.9 L1261.3,314.0 L1263.3,314.1 L1265.3,314.2 L1267.3,314.2 L1269.3,314.3 L1271.3,314.4 L1273.3,314.5 L1275.2,314.6 L1277.2,314.7 L1279.2,314.7 L1281.2,314.8 L1283.2,314.9 L1285.2,315.0 L1287.2,315.1 L1289.2,315.1 L1291.2,315.2 L1293.2,315.3 L1295.2,315.4 L1297.2,315.4 L1299.2,315.5 L1301.2,315.6 L1303.2,315.7 L1305.2,315.7 L1307.2,315.8 L1309.2,315.9 L1311.2,316.0 L1313.2,316.1 L1315.2,316.1 L1317.1,316.2 L1319.1,316.3 L1321.1,316.4 L1323.1,316.5 L1325.1,316.5 L1327.1,316.6 L1329.1,316.7 L1331.1,316.8 L1333.1,316.9 L1335.1,317.0 L1337.1,317.1 L1339.1,317.1 L1341.1,317.2 L1343.1,317.3 L1345.1,317.4 L1347.1,317.5 L1349.0,317.6 L1351.0,317.7 L1353.0,317.8 L1355.0,317.9 L1357.0,318.0 L1359.0,318.1 L1361.0,318.3 L1363.0,318.4 L1365.0,318.5 L1367.0,318.6 L1369.0,318.7 L1370.9,318.8 L1372.9,319.0 L1374.9,319.1 L1376.9,319.2 L1378.9,319.3 L1380.9,319.5 L1382.9,319.6 L1384.9,319.8 L1386.8,319.9 L1388.8,320.1 L1390.8,320.2 L1392.8,320.4 L1394.8,320.5 L1396.8,320.7 L1398.7,320.8 L1400.7,321.0 L1402.7,321.2 L1404.7,321.4 L1406.7,321.5 L1408.6,321.7 L1410.6,321.9 L1412.6,322.1 L1414.6,322.3 L1416.6,322.5 L1418.5,322.7 L1420.5,322.9 L1422.5,323.1 L1424.5,323.3 L1426.5,323.5 L1428.4,323.8 L1430.4,324.0 L1432.4,324.2 L1434.3,324.5 L1436.3,324.7 L1438.3,325.0 L1440.3,325.2 L1442.2,325.5 L1444.2,325.7 L1446.2,326.0 L1448.1,326.3 L1450.1,326.6 L1452.1,326.9 L1454.0,327.1 L1456.0,327.4 L1458.0,327.7 L1459.9,328.0 L1461.9,328.4 L1463.9,328.7 L1465.8,329.0 L1467.8,329.3 L1469.7,329.7 L1471.7,330.0 L1473.7,330.4 L1475.6,330.7 L1477.6,331.1 L1479.5,331.5 L1481.5,331.8 L1483.4,332.2 L1485.4,332.6 L1487.3,333.0 L1489.3,333.4 L1491.3,333.8 L1493.2,334.2 L1495.2,334.7 L1497.1,335.1 L1499.0,335.5 L1501.0,336.0 L1502.9,336.4 L1504.9,336.9 L1506.8,337.3 L1508.8,337.8 L1510.7,338.3 L1512.7,338.8 L1514.6,339.3 L1516.5,339.8 L1518.5,340.3 L1520.4,340.8 L1522.3,341.3 L1524.3,341.9 L1526.2,342.4 L1528.1,343.0 L1530.1,343.5 L1532.0,344.1" fill="none" stroke="#EE5B2D" stroke-width="4" stroke-linecap="butt" stroke-linejoin="round"/>
<path d="M965.0,303.1 L965.5,305.0 L966.0,306.9 L966.7,308.8 L967.4,310.7 L968.4,312.5 L969.4,314.2 L970.6,315.8 L972.0,317.3 L973.4,318.8 L974.9,320.1 L976.4,321.3 L978.0,322.5 L979.7,323.5 L981.4,324.4 L983.2,325.3 L985.0,326.1 L986.8,326.9 L988.7,327.6 L990.6,328.2 L992.5,328.8 L994.4,329.4 L996.4,329.9 L998.3,330.4 L1000.3,330.9 L1002.2,331.4 L1004.2,331.8 L1006.2,332.3 L1008.1,332.7 L1010.1,333.2 L1012.0,333.6 L1014.0,334.0 L1016.0,334.4 L1017.9,334.8 L1019.9,335.2 L1021.9,335.6 L1023.8,336.0 L1025.8,336.3 L1027.8,336.7 L1029.7,337.0 L1031.7,337.4 L1033.7,337.7 L1035.6,338.0 L1037.6,338.3 L1039.6,338.6 L1041.6,338.9 L1043.5,339.2 L1045.5,339.5 L1047.5,339.8 L1049.4,340.1 L1051.4,340.4 L1053.4,340.6 L1055.4,340.9 L1057.3,341.1 L1059.3,341.4 L1061.3,341.6 L1063.2,341.9 L1065.2,342.1 L1067.2,342.3 L1069.2,342.6 L1071.1,342.8 L1073.1,343.0 L1075.1,343.2 L1077.1,343.4 L1079.1,343.7 L1081.0,343.9 L1083.0,344.1 L1085.0,344.3 L1087.0,344.5 L1088.9,344.7 L1090.9,344.9 L1092.9,345.0 L1094.9,345.2 L1096.9,345.4 L1098.8,345.6 L1100.8,345.8 L1102.8,346.0 L1104.8,346.2 L1106.8,346.4 L1108.8,346.5 L1110.7,346.7 L1112.7,346.9 L1114.7,347.1 L1116.7,347.2 L1118.7,347.4 L1120.7,347.6 L1122.7,347.8 L1124.6,347.9 L1126.6,348.1 L1128.6,348.3 L1130.6,348.4 L1132.6,348.6 L1134.6,348.8 L1136.6,348.9 L1138.5,349.1 L1140.5,349.2 L1142.5,349.4 L1144.5,349.5 L1146.5,349.7 L1148.5,349.8 L1150.5,350.0 L1152.5,350.1 L1154.5,350.3 L1156.5,350.4 L1158.4,350.6 L1160.4,350.7 L1162.4,350.9 L1164.4,351.0 L1166.4,351.2 L1168.4,351.3 L1170.4,351.4 L1172.4,351.6 L1174.4,351.7 L1176.4,351.8 L1178.4,352.0 L1180.4,352.1 L1182.4,352.2 L1184.4,352.3 L1186.3,352.5 L1188.3,352.6 L1190.3,352.7 L1192.3,352.8 L1194.3,353.0 L1196.3,353.1 L1198.3,353.2 L1200.3,353.3 L1202.3,353.4 L1204.3,353.5 L1206.3,353.6 L1208.3,353.8 L1210.3,353.9 L1212.3,354.0 L1214.3,354.1 L1216.3,354.2 L1218.3,354.3 L1220.3,354.4 L1222.3,354.5 L1224.3,354.6 L1226.3,354.7 L1228.3,354.8 L1230.3,354.9 L1232.3,355.0 L1234.3,355.1 L1236.3,355.2 L1238.3,355.2 L1240.2,355.3 L1242.2,355.4 L1244.2,355.5 L1246.2,355.6 L1248.2,355.7 L1250.2,355.7 L1252.2,355.8 L1254.2,355.9 L1256.2,356.0 L1258.2,356.1 L1260.2,356.1 L1262.2,356.2 L1264.2,356.3 L1266.2,356.3 L1268.2,356.4 L1270.2,356.5 L1272.2,356.5 L1274.2,356.6 L1276.2,356.7 L1278.2,356.7 L1280.2,356.8 L1282.2,356.9 L1284.2,356.9 L1286.2,357.0 L1288.2,357.0 L1290.2,357.1 L1292.2,357.1 L1294.2,357.2 L1296.2,357.2 L1298.2,357.3 L1300.2,357.3 L1302.2,357.4 L1304.2,357.4 L1306.2,357.5 L1308.2,357.5 L1310.2,357.5 L1312.2,357.6 L1314.2,357.6 L1316.2,357.6 L1318.2,357.7 L1320.2,357.7 L1322.2,357.7 L1324.2,357.8 L1326.2,357.8 L1328.2,357.8 L1330.2,357.9 L1332.2,357.9 L1334.2,357.9 L1336.2,357.9 L1338.2,358.0 L1340.2,358.0 L1342.2,358.0 L1344.1,358.0 L1346.1,358.0 L1348.1,358.0 L1350.1,358.1 L1352.1,358.1 L1354.1,358.1 L1356.1,358.1 L1358.1,358.1 L1360.1,358.1 L1362.1,358.1 L1364.1,358.1 L1366.1,358.1 L1368.1,358.1 L1370.1,358.1 L1372.1,358.1 L1374.1,358.1 L1376.1,358.1 L1378.1,358.1 L1380.1,358.1 L1382.0,358.1 L1384.0,358.1 L1386.0,358.1 L1388.0,358.0 L1390.0,358.0 L1392.0,358.0 L1394.0,358.0" fill="none" stroke="#EE5B2D" stroke-width="4" stroke-linecap="butt" stroke-linejoin="round"/>
<rect x="855" y="101" width="2" height="286" fill="#000"/>
<rect x="855" y="139" width="19" height="2" fill="#000"/>
<rect x="855" y="187" width="19" height="2" fill="#000"/>
<rect x="855" y="236" width="19" height="2" fill="#000"/>
<rect x="855" y="288" width="19" height="2" fill="#000"/>
<rect x="855" y="336" width="19" height="2" fill="#000"/>
<rect x="855" y="385" width="19" height="2" fill="#000"/>
<rect x="964" y="443" width="625" height="2" fill="#000"/>
<rect x="964" y="434" width="2" height="21" fill="#000"/>
<rect x="1033" y="434" width="2" height="10" fill="#000"/>
<rect x="1102" y="434" width="2" height="10" fill="#000"/>
<rect x="1171" y="434" width="2" height="10" fill="#000"/>
<rect x="1241" y="434" width="2" height="10" fill="#000"/>
<rect x="1310" y="434" width="2" height="10" fill="#000"/>
<rect x="1379" y="434" width="2" height="10" fill="#000"/>
<rect x="1448" y="434" width="2" height="10" fill="#000"/>
<rect x="1517" y="434" width="2" height="10" fill="#000"/>
<rect x="1587" y="434" width="2" height="10" fill="#000"/>
<rect x="1036" y="443" width="2" height="12" fill="#000"/>
<rect x="1109" y="443" width="2" height="12" fill="#000"/>
<rect x="1182" y="443" width="2" height="12" fill="#000"/>
<rect x="1258" y="443" width="2" height="12" fill="#000"/>
<rect x="1331" y="443" width="2" height="12" fill="#000"/>
<rect x="1403" y="443" width="2" height="12" fill="#000"/>
<rect x="1476" y="443" width="2" height="12" fill="#000"/>
<rect x="1549" y="443" width="2" height="12" fill="#000"/>
<rect x="629" y="38" width="407" height="2" fill="#000"/>
</g>
<text x="0" y="0" font-size="37.5" font-weight="700" transform="translate(628.4,34.8) scale(0.8795,1)">Regulator FLOW CHARTS</text>
<text x="10.9" y="73.5" font-size="31.3" font-weight="400" text-anchor="start" >bar</text>
<text x="94" y="69.5" font-size="31.3" font-weight="400" text-anchor="start" >psig</text>
<text x="244.6" y="92.7" font-size="31.3" font-weight="700" text-anchor="start" >Inlet Pressure:</text>
<text x="468.6" y="92.7" font-size="31.3" font-weight="400" text-anchor="start" >91 psig (6.3 bar)</text>
<text x="492.4" y="153" font-size="31.3" font-weight="700" text-anchor="start" >1-1/4 Ports</text>
<text x="146.2" y="115.5" font-size="31.3" font-weight="400" text-anchor="end" >80</text>
<text x="146.2" y="184.5" font-size="31.3" font-weight="400" text-anchor="end" >60</text>
<text x="146.2" y="253.5" font-size="31.3" font-weight="400" text-anchor="end" >40</text>
<text x="146.2" y="322.5" font-size="31.3" font-weight="400" text-anchor="end" >20</text>
<text x="34.2" y="152" font-size="31.3" font-weight="400" text-anchor="end" >5</text>
<text x="34.2" y="201.5" font-size="31.3" font-weight="400" text-anchor="end" >4</text>
<text x="34.2" y="249" font-size="31.3" font-weight="400" text-anchor="end" >3</text>
<text x="34.2" y="298.5" font-size="31.3" font-weight="400" text-anchor="end" >2</text>
<text x="34.2" y="346.5" font-size="31.3" font-weight="400" text-anchor="end" >1</text>
<text transform="translate(100.8,390.5) rotate(-90)" x="-1" y="0" font-size="31.3" font-weight="700">OUTLET PRESSURE</text>
<text x="16.7" y="457" font-size="31.3" font-weight="700" text-anchor="start" >FLOW</text>
<text x="75.25" y="423.5" font-size="31.3" font-weight="400" text-anchor="start" >scfm</text>
<text x="109.7" y="484.5" font-size="31.3" font-weight="400" text-anchor="start" >l/s</text>
<text x="158.35" y="425" font-size="31.3" font-weight="400" text-anchor="middle" >0</text>
<text x="228.95" y="425" font-size="31.3" font-weight="400" text-anchor="middle" >100</text>
<text x="296.85" y="425" font-size="31.3" font-weight="400" text-anchor="middle" >200</text>
<text x="365.8" y="425" font-size="31.3" font-weight="400" text-anchor="middle" >300</text>
<text x="435.2" y="425" font-size="31.3" font-weight="400" text-anchor="middle" >400</text>
<text x="504.25" y="425" font-size="31.3" font-weight="400" text-anchor="middle" >500</text>
<text x="573.5" y="425" font-size="31.3" font-weight="400" text-anchor="middle" >600</text>
<text x="642.5" y="425" font-size="31.3" font-weight="400" text-anchor="middle" >700</text>
<text x="711.9" y="425" font-size="31.3" font-weight="400" text-anchor="middle" >800</text>
<text x="780.95" y="425" font-size="31.3" font-weight="400" text-anchor="middle" >900</text>
<text x="158.35" y="486.5" font-size="31.3" font-weight="400" text-anchor="middle" >0</text>
<text x="230.95" y="486.5" font-size="31.3" font-weight="400" text-anchor="middle" >50</text>
<text x="299.7" y="486.5" font-size="31.3" font-weight="400" text-anchor="middle" >100</text>
<text x="377" y="486.5" font-size="31.3" font-weight="400" text-anchor="middle" >150</text>
<text x="450.95" y="486.5" font-size="31.3" font-weight="400" text-anchor="middle" >200</text>
<text x="523.3" y="486.5" font-size="31.3" font-weight="400" text-anchor="middle" >250</text>
<text x="595.85" y="486.5" font-size="31.3" font-weight="400" text-anchor="middle" >300</text>
<text x="671.95" y="486.5" font-size="31.3" font-weight="400" text-anchor="middle" >350</text>
<text x="744.75" y="486.5" font-size="31.3" font-weight="400" text-anchor="middle" >400</text>
<text x="817" y="83.5" font-size="31.3" font-weight="400" text-anchor="start" >bar</text>
<text x="900.8" y="73.7" font-size="31.3" font-weight="400" text-anchor="start" >psig</text>
<text x="1048.1" y="92.7" font-size="31.3" font-weight="700" text-anchor="start" >Inlet Pressure:</text>
<text x="1272.9" y="92.7" font-size="31.3" font-weight="400" text-anchor="start" >91 psig (6.3 bar)</text>
<text x="1298.5" y="156.6" font-size="31.3" font-weight="700" text-anchor="start" >1-1/2 Ports</text>
<text x="956.2" y="115.5" font-size="31.3" font-weight="400" text-anchor="end" >80</text>
<text x="956.2" y="184.5" font-size="31.3" font-weight="400" text-anchor="end" >60</text>
<text x="956.2" y="253.5" font-size="31.3" font-weight="400" text-anchor="end" >40</text>
<text x="956.2" y="322.5" font-size="31.3" font-weight="400" text-anchor="end" >20</text>
<text x="956.2" y="392.5" font-size="31.3" font-weight="400" text-anchor="end" >0</text>
<text x="847.2" y="152" font-size="31.3" font-weight="400" text-anchor="end" >5</text>
<text x="847.2" y="201.5" font-size="31.3" font-weight="400" text-anchor="end" >4</text>
<text x="847.2" y="249" font-size="31.3" font-weight="400" text-anchor="end" >3</text>
<text x="847.2" y="298.5" font-size="31.3" font-weight="400" text-anchor="end" >2</text>
<text x="847.2" y="346.5" font-size="31.3" font-weight="400" text-anchor="end" >1</text>
<text transform="translate(910.8,393.5) rotate(-90)" x="-1" y="0" font-size="31.3" font-weight="700">OUTLET PRESSURE</text>
<text x="826.7" y="457" font-size="31.3" font-weight="700" text-anchor="start" >FLOW</text>
<text x="885.25" y="423.5" font-size="31.3" font-weight="400" text-anchor="start" >scfm</text>
<text x="919.7" y="484.5" font-size="31.3" font-weight="400" text-anchor="start" >l/s</text>
<text x="968.35" y="425" font-size="31.3" font-weight="400" text-anchor="middle" >0</text>
<text x="1038.95" y="425" font-size="31.3" font-weight="400" text-anchor="middle" >100</text>
<text x="1106.85" y="425" font-size="31.3" font-weight="400" text-anchor="middle" >200</text>
<text x="1175.8" y="425" font-size="31.3" font-weight="400" text-anchor="middle" >300</text>
<text x="1245.2" y="425" font-size="31.3" font-weight="400" text-anchor="middle" >400</text>
<text x="1314.25" y="425" font-size="31.3" font-weight="400" text-anchor="middle" >500</text>
<text x="1383.5" y="425" font-size="31.3" font-weight="400" text-anchor="middle" >600</text>
<text x="1452.5" y="425" font-size="31.3" font-weight="400" text-anchor="middle" >700</text>
<text x="1521.9" y="425" font-size="31.3" font-weight="400" text-anchor="middle" >800</text>
<text x="1590.95" y="425" font-size="31.3" font-weight="400" text-anchor="middle" >900</text>
<text x="968.35" y="486.5" font-size="31.3" font-weight="400" text-anchor="middle" >0</text>
<text x="1040.95" y="486.5" font-size="31.3" font-weight="400" text-anchor="middle" >50</text>
<text x="1109.7" y="486.5" font-size="31.3" font-weight="400" text-anchor="middle" >100</text>
<text x="1187" y="486.5" font-size="31.3" font-weight="400" text-anchor="middle" >150</text>
<text x="1260.95" y="486.5" font-size="31.3" font-weight="400" text-anchor="middle" >200</text>
<text x="1333.3" y="486.5" font-size="31.3" font-weight="400" text-anchor="middle" >250</text>
<text x="1405.85" y="486.5" font-size="31.3" font-weight="400" text-anchor="middle" >300</text>
<text x="1481.95" y="486.5" font-size="31.3" font-weight="400" text-anchor="middle" >350</text>
<text x="1554.75" y="486.5" font-size="31.3" font-weight="400" text-anchor="middle" >400</text>
<g><rect x="487.4" y="89.45" width="6.35" height="4.75" fill="#fff"/><rect x="496.57" y="89.45" width="6.01" height="4.75" fill="#fff"/><rect x="493.34" y="148.96" width="6.35" height="5.54" fill="#fff"/><rect x="503.89" y="148.96" width="5.73" height="5.54" fill="#fff"/><rect x="521.15" y="148.96" width="6.35" height="5.54" fill="#fff"/><rect x="531.7" y="148.96" width="5.73" height="5.54" fill="#fff"/><rect x="18.2" y="343.25" width="6.35" height="4.75" fill="#fff"/><rect x="27.37" y="343.25" width="6.01" height="4.75" fill="#fff"/><rect x="204.25" y="421.75" width="6.35" height="4.75" fill="#fff"/><rect x="213.42" y="421.75" width="6.01" height="4.75" fill="#fff"/><rect x="275.0" y="483.25" width="6.35" height="4.75" fill="#fff"/><rect x="284.17" y="483.25" width="6.01" height="4.75" fill="#fff"/><rect x="352.3" y="483.25" width="6.35" height="4.75" fill="#fff"/><rect x="361.47" y="483.25" width="6.01" height="4.75" fill="#fff"/><rect x="1291.7" y="89.45" width="6.35" height="4.75" fill="#fff"/><rect x="1300.87" y="89.45" width="6.01" height="4.75" fill="#fff"/><rect x="1299.44" y="152.56" width="6.35" height="5.54" fill="#fff"/><rect x="1309.99" y="152.56" width="5.73" height="5.54" fill="#fff"/><rect x="1327.25" y="152.56" width="6.35" height="5.54" fill="#fff"/><rect x="1337.8" y="152.56" width="5.73" height="5.54" fill="#fff"/><rect x="831.2" y="343.25" width="6.35" height="4.75" fill="#fff"/><rect x="840.37" y="343.25" width="6.01" height="4.75" fill="#fff"/><rect x="1014.25" y="421.75" width="6.35" height="4.75" fill="#fff"/><rect x="1023.42" y="421.75" width="6.01" height="4.75" fill="#fff"/><rect x="1085.0" y="483.25" width="6.35" height="4.75" fill="#fff"/><rect x="1094.17" y="483.25" width="6.01" height="4.75" fill="#fff"/><rect x="1162.3" y="483.25" width="6.35" height="4.75" fill="#fff"/><rect x="1171.47" y="483.25" width="6.01" height="4.75" fill="#fff"/></g>
</svg>
</body></html>
